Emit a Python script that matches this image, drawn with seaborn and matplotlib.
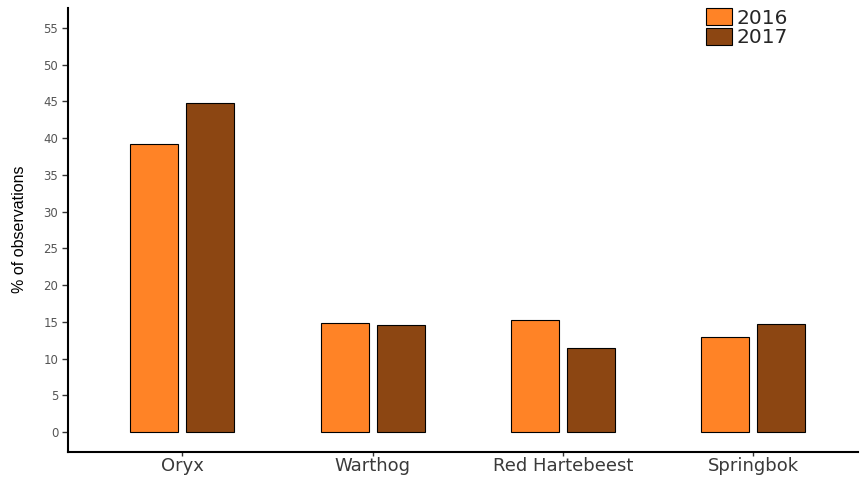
import matplotlib
matplotlib.use("Agg")
import matplotlib.pyplot as plt
import seaborn as sns
import pandas as pd

species = ["Oryx", "Warthog", "Red Hartebeest", "Springbok"]
years = ["2016", "2017"]
pct_2016 = [39.2, 14.9, 15.3, 13.0]
pct_2017 = [44.8, 14.6, 11.4, 14.7]
y_ticks = list(range(0, 56, 5))
year_colors = {"2016": "#FF8326", "2017": "#8C4612"}

df = pd.DataFrame({
    "species": species * 2,
    "year": ["2016"] * len(species) + ["2017"] * len(species),
    "pct": pct_2016 + pct_2017,
})

sns.set_theme(style="ticks")
plt.rcParams["font.family"] = ["DejaVu Sans"]

fig = plt.figure(figsize=(8.61, 4.78), dpi=100)
ax = fig.add_axes([68 / 861, 26 / 478, 790 / 861, 444 / 478])

sns.barplot(data=df, x="species", y="pct", hue="year", order=species,
            hue_order=years, palette=year_colors, width=0.588, gap=0.143,
            edgecolor="black", linewidth=0.8, saturation=1, errorbar=None,
            ax=ax)

ax.set_ylim(-2.7, 57.7)
ax.set_xlim(-0.6, 3.55)
ax.set_yticks(y_ticks)
ax.set_yticklabels([str(t) for t in y_ticks])
sns.despine(ax=ax)
for side in ("left", "bottom"):
    ax.spines[side].set_linewidth(1.5)
    ax.spines[side].set_color("black")

ax.tick_params(axis="y", length=4, width=1, colors="#555555", labelsize=8.5, pad=3)
ax.tick_params(axis="x", length=3, width=1, colors="#3a3a3a", labelsize=13, pad=0.5)
ax.tick_params(axis="both", color="#333333")

ax.set_xlabel("")
ax.set_ylabel("% of observations", fontsize=11.5,
              family=["Liberation Sans", "DejaVu Sans"], color="black")
ax.yaxis.set_label_coords(-41 / 790, 0.502)

handles, labels = ax.get_legend_handles_labels()
ax.legend(handles, labels, loc="upper left",
          bbox_to_anchor=(706 / 861, 1 - 8 / 478), bbox_transform=fig.transFigure,
          frameon=False, fontsize=14.5, handlelength=1.3, handleheight=0.95,
          labelspacing=0.0, handletextpad=0.2, borderpad=0, borderaxespad=0)

fig.savefig("out.png", dpi=100)
